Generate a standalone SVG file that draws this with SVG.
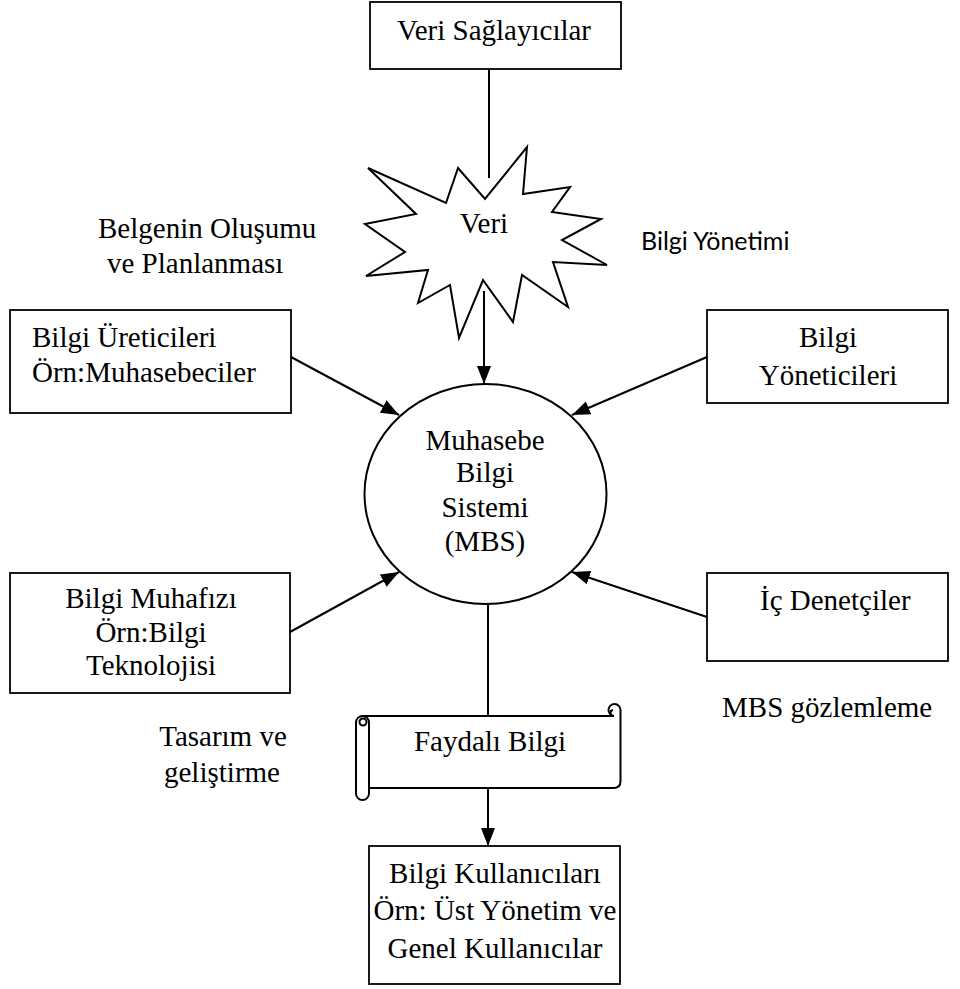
<svg xmlns="http://www.w3.org/2000/svg" width="960" height="989" viewBox="0 0 960 989">
  <style>
    .box { fill: #fff; stroke: #000; stroke-width: 1.8; }
    .shape { fill: #fff; stroke: #000; stroke-width: 2; stroke-linejoin: miter; }
    .line { fill: none; stroke: #000; stroke-width: 2; }
    .t { font-family: "Liberation Serif", "Times New Roman", serif; font-size: 29px; fill: #000; }
    .c { text-anchor: middle; }
    .sans { font-family: Lato, "Liberation Sans", sans-serif; font-size: 25px; fill: #000; }
  </style>
  <defs>
    <marker id="arrow" markerUnits="userSpaceOnUse" markerWidth="20" markerHeight="16" refX="18" refY="7" orient="auto">
      <path d="M0,0 L18,7 L0,14 Z" fill="#000"/>
    </marker>
  </defs>

  <!-- connectors -->
  <g id="connectors">
    <line class="line" x1="489" y1="69" x2="489" y2="178"/>
    <line class="line" x1="484" y1="291" x2="484" y2="384" marker-end="url(#arrow)"/>
    <line class="line" x1="291" y1="357" x2="399" y2="415" marker-end="url(#arrow)"/>
    <line class="line" x1="707" y1="357" x2="572" y2="415" marker-end="url(#arrow)"/>
    <line class="line" x1="290" y1="632" x2="399" y2="572" marker-end="url(#arrow)"/>
    <line class="line" x1="707" y1="617" x2="572" y2="572" marker-end="url(#arrow)"/>
    <line class="line" x1="488" y1="604" x2="488" y2="716"/>
    <line class="line" x1="488" y1="788" x2="488" y2="846" marker-end="url(#arrow)"/>
  </g>

  <!-- top source box -->
  <g id="veri-saglayicilar">
    <rect class="box" x="370" y="2" width="251" height="67"/>
    <text class="t c" x="494" y="40">Veri Sağlayıcılar</text>
  </g>

  <!-- data burst -->
  <g id="veri">
    <polygon class="shape" points="368,168 446,203 458,168 485,199 527,147 523,194 570,187 552,212 601,219 562,240 607,265 553,262 568,307 522,275 513,322 483,280 459,338 450,285 418,303 428,270 366,276 405,252 365,224 416,214"/>
    <text class="t c" x="484" y="233">Veri</text>
  </g>

  <g id="label-belgenin">
    <text class="t" x="98" y="238">Belgenin Oluşumu</text>
    <text class="t" x="107" y="273">ve Planlanması</text>
  </g>

  <g id="label-bilgi-yonetimi">
    <text class="sans" x="641" y="250">Bilgi Yönetimi</text>
  </g>

  <g id="bilgi-ureticileri">
    <rect class="box" x="10" y="310" width="281" height="103"/>
    <text class="t" x="32" y="347">Bilgi Üreticileri</text>
    <text class="t" x="32" y="382">Örn:Muhasebeciler</text>
  </g>

  <g id="bilgi-yoneticileri">
    <rect class="box" x="707" y="310" width="241" height="93"/>
    <text class="t c" x="828" y="347">Bilgi</text>
    <text class="t c" x="828" y="385">Yöneticileri</text>
  </g>

  <!-- central system -->
  <g id="mbs">
    <ellipse class="shape" cx="485.5" cy="494" rx="121" ry="110"/>
    <text class="t c" x="485" y="450">Muhasebe</text>
    <text class="t c" x="485" y="482">Bilgi</text>
    <text class="t c" x="485" y="517">Sistemi</text>
    <text class="t c" x="485" y="551">(MBS)</text>
  </g>

  <g id="bilgi-muhafizi">
    <rect class="box" x="10" y="573" width="280" height="120"/>
    <text class="t c" x="151" y="608">Bilgi Muhafızı</text>
    <text class="t c" x="151" y="642">Örn:Bilgi</text>
    <text class="t c" x="151" y="675">Teknolojisi</text>
  </g>

  <g id="ic-denetciler">
    <rect class="box" x="707" y="573" width="241" height="88"/>
    <text class="t" x="760" y="610">İç Denetçiler</text>
  </g>

  <g id="label-mbs-gozlemleme">
    <text class="t" x="722" y="717">MBS gözlemleme</text>
  </g>

  <g id="label-tasarim">
    <text class="t c" x="223" y="746">Tasarım ve</text>
    <text class="t c" x="222" y="782">geliştirme</text>
  </g>

  <!-- scroll banner -->
  <g id="faydali-bilgi">
    <path class="shape" d="M362,716 L614,716 A6,6 0 1 1 620.5,710 L620.5,781 Q620.5,788 613.5,788 L369,788 Z"/>
    <path class="line" d="M614,716 A3,3 0 1 1 613,710"/>
    <rect class="shape" x="356" y="716" width="13" height="84" rx="6.5"/>
    <circle class="line" cx="363" cy="722" r="3.5"/>
    <text class="t c" x="490" y="751">Faydalı Bilgi</text>
  </g>

  <g id="bilgi-kullanicilari">
    <rect class="box" x="369" y="846" width="251" height="138"/>
    <text class="t c" x="495" y="883">Bilgi Kullanıcıları</text>
    <text class="t c" x="495" y="920">Örn: Üst Yönetim ve</text>
    <text class="t c" x="495" y="958">Genel Kullanıcılar</text>
  </g>
</svg>
